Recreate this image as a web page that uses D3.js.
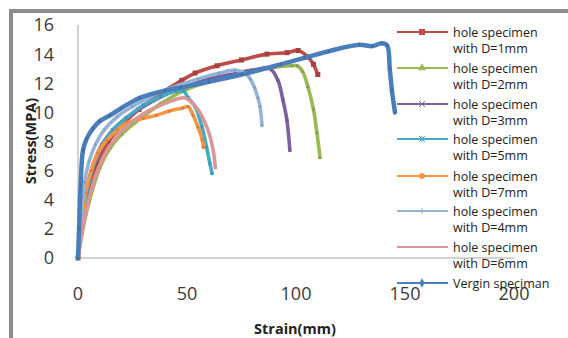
<!DOCTYPE html>
<html>
<head>
<meta charset="utf-8">
<script src="https://cdn.jsdelivr.net/npm/d3@7"></script>
<style>
  body { margin: 0; background: #fff; }
  svg { display: block; }
  .tick-label { font-family: "Open Sans", sans-serif; font-size: 18px; fill: #3a3a3a; }
  .axis-title { font-family: "Open Sans", sans-serif; font-size: 14.5px; font-weight: bold; fill: #222; }
  .legend-text { font-family: "Open Sans", sans-serif; font-size: 12.5px; fill: #222; }
</style>
</head>
<body>
<div id="chart"></div>
<script>
// tick labels
const xTicks = [0, 50, 100, 150, 200];
const yTicks = [0, 2, 4, 6, 8, 10, 12, 14, 16];

// series, in legend order
const seriesNames = [
  ['hole specimen', 'with D=1mm'],
  ['hole specimen', 'with D=2mm'],
  ['hole specimen', 'with D=3mm'],
  ['hole specimen', 'with D=5mm'],
  ['hole specimen', 'with D=7mm'],
  ['hole specimen', 'with D=4mm'],
  ['hole specimen', 'with D=6mm'],
  ['Vergin speciman']
];
const seriesColors = ['#BE4B48', '#98B954', '#7D60A0', '#46AAC5', '#F69545', '#95B3D7', '#D99694', '#4A7EBB'];
const seriesMarkers = ['square', 'triangle', 'cross', 'star', 'circle', 'plus', 'none', 'diamond'];

const d1Strain = [0, 2, 5, 9, 14, 20, 28, 38, 47.6, 53.7, 63.8, 75, 86.7, 95.9, 101, 105.5, 108, 110];
const d1Stress = [0, 2.3, 4.5, 6.5, 8.0, 9.1, 10.2, 11.3, 12.2, 12.7, 13.2, 13.6, 14.0, 14.1, 14.25, 13.8, 13.3, 12.6];

const d2Strain = [0, 2, 5, 10, 15, 20, 28, 38, 50, 60, 70, 80, 90, 98, 100.5, 103, 105.5, 108, 109.6, 111];
const d2Stress = [0, 1.8, 3.8, 6.2, 7.6, 8.5, 9.5, 10.6, 11.6, 12.1, 12.5, 12.8, 13.1, 13.2, 13.2, 12.8, 11.75, 10.2, 8.6, 6.9];

const d3Strain = [0, 2, 4, 7, 11, 16, 22, 30, 40, 50, 60, 70, 80, 88, 91.7, 94, 95.8, 97.2];
const d3Stress = [0, 2.6, 4.6, 6.4, 7.8, 8.8, 9.6, 10.4, 11.2, 11.8, 12.3, 12.6, 12.9, 13.0, 12.2, 10.85, 9.5, 7.4];

const d5Strain = [0, 2, 4, 7, 11, 16, 22, 30, 38, 45, 48.5, 50.5, 53.7, 56.9, 59, 60.5, 61.5];
const d5Stress = [0, 2.5, 4.5, 6.3, 7.7, 8.8, 9.6, 10.5, 11.1, 11.45, 11.45, 11.0, 10.4, 9.0, 7.6, 6.5, 5.8];

const d7Strain = [0, 1.5, 3.5, 6, 9, 13.3, 18, 22.5, 30, 36, 42, 48, 50.5, 52.8, 55, 57, 57.5];
const d7Stress = [0, 2.5, 4.5, 6.0, 7.2, 8.1, 8.8, 9.3, 9.6, 9.8, 10.1, 10.3, 10.4, 9.8, 9.0, 8.1, 7.6];

const d4Strain = [0, 1.5, 3, 5, 8, 12, 18, 25, 35, 45, 55, 65, 72, 76.6, 79, 81, 82.5, 83.5, 84.4];
const d4Stress = [0, 3, 5.2, 6.6, 7.8, 8.8, 9.7, 10.4, 11.2, 11.8, 12.3, 12.7, 12.9, 12.7, 12.3, 11.7, 11.0, 10.4, 9.1];

const d6Strain = [0, 2, 5, 8, 11.5, 16, 22, 30, 38, 45, 49, 52, 55, 59.6, 62, 63];
const d6Stress = [0, 1.9, 4.0, 5.6, 6.9, 8.0, 9.0, 9.9, 10.5, 10.9, 11.0, 10.7, 10.2, 8.8, 7.4, 6.2];

const vStrain = [0, 0.5, 1.2, 2.3, 4, 6.9, 10, 14.7, 20, 28.4, 40, 47, 60, 75, 93, 104, 115, 129, 135, 139.4, 141.8, 143, 144, 145.4];
const vStress = [0, 2, 5, 7.4, 8.2, 8.9, 9.4, 9.8, 10.3, 11.0, 11.5, 11.7, 12.1, 12.6, 13.3, 13.75, 14.2, 14.65, 14.55, 14.75, 14.6, 13, 11.5, 10.0];

const seriesStrain = [d1Strain, d2Strain, d3Strain, d5Strain, d7Strain, d4Strain, d6Strain, vStrain];
const seriesStress = [d1Stress, d2Stress, d3Stress, d5Stress, d7Stress, d4Stress, d6Stress, vStress];

const width = 568;
const height = 338;

const svg = d3.select('#chart').append('svg')
  .attr('width', width)
  .attr('height', height);

// outer frame of the chart area
svg.append('rect')
  .attr('x', 11)
  .attr('y', 11)
  .attr('width', 620)
  .attr('height', 400)
  .attr('fill', 'none')
  .attr('stroke', '#8c8c8c')
  .attr('stroke-width', 4);

const x = d3.scaleLinear().domain([0, 200]).range([78, 514]);
const y = d3.scaleLinear().domain([0, 16]).range([258, 25]);

// axis lines
svg.append('line')
  .attr('x1', x(0)).attr('x2', x(200))
  .attr('y1', y(0)).attr('y2', y(0))
  .attr('stroke', '#a6a6a6').attr('stroke-width', 1);
svg.append('line')
  .attr('x1', x(0)).attr('x2', x(0))
  .attr('y1', y(0)).attr('y2', y(16))
  .attr('stroke', '#a6a6a6').attr('stroke-width', 1);

// tick labels
svg.selectAll('.ytl').data(yTicks).join('text')
  .attr('class', 'tick-label')
  .attr('x', 54)
  .attr('y', d => y(d))
  .attr('dy', '0.36em')
  .attr('text-anchor', 'end')
  .text(d => d);

svg.selectAll('.xtl').data(xTicks).join('text')
  .attr('class', 'tick-label')
  .attr('x', d => x(d))
  .attr('y', 294)
  .attr('dy', '0.36em')
  .attr('text-anchor', 'middle')
  .text(d => d);

// axis titles
svg.append('text')
  .attr('class', 'axis-title')
  .attr('x', 295)
  .attr('y', 329)
  .attr('dy', '0.36em')
  .attr('text-anchor', 'middle')
  .text('Strain(mm)');

svg.append('text')
  .attr('class', 'axis-title')
  .attr('transform', 'translate(31,141) rotate(-90)')
  .attr('dy', '0.36em')
  .attr('text-anchor', 'middle')
  .text('Stress(MPA)');

const line = d3.line()
  .x(d => x(d[0]))
  .y(d => y(d[1]))
  .curve(d3.curveCatmullRom.alpha(0.5));

function drawMarker(g, kind, cx, cy, color, s) {
  if (kind === 'square') {
    g.append('rect').attr('x', cx - s / 2).attr('y', cy - s / 2)
      .attr('width', s).attr('height', s).attr('fill', color);
  } else if (kind === 'triangle') {
    g.append('path').attr('d', d3.symbol(d3.symbolTriangle, s * s * 0.8)())
      .attr('transform', `translate(${cx},${cy})`).attr('fill', color);
  } else if (kind === 'circle') {
    g.append('circle').attr('cx', cx).attr('cy', cy).attr('r', s / 2).attr('fill', color);
  } else if (kind === 'diamond') {
    g.append('path').attr('d', d3.symbol(d3.symbolDiamond, s * s * 0.7)())
      .attr('transform', `translate(${cx},${cy})`).attr('fill', color);
  } else if (kind === 'cross' || kind === 'plus' || kind === 'star') {
    const h = s / 2;
    const segs = [];
    if (kind !== 'plus') segs.push([-h, -h, h, h], [-h, h, h, -h]);
    if (kind !== 'cross') segs.push([0, -h, 0, h]);
    if (kind === 'plus') segs.push([-h, 0, h, 0]);
    segs.forEach(sg => {
      g.append('line')
        .attr('x1', cx + sg[0]).attr('y1', cy + sg[1])
        .attr('x2', cx + sg[2]).attr('y2', cy + sg[3])
        .attr('stroke', color).attr('stroke-width', 1);
    });
  }
}

// series drawn in order, so the vergin curve ends up on top
const plot = svg.append('g');
seriesStrain.forEach((strain, i) => {
  const pts = strain.map((s, k) => [s, seriesStress[i][k]]);
  const g = plot.append('g');
  g.append('path')
    .attr('d', line(pts))
    .attr('fill', 'none')
    .attr('stroke', seriesColors[i])
    .attr('stroke-width', i === 7 ? 4.5 : 3.6)
    .attr('stroke-linejoin', 'round')
    .attr('stroke-linecap', 'round');
  const mcol = d3.color(seriesColors[i]).darker(0.4);
  pts.forEach(p => {
    drawMarker(g, seriesMarkers[i], x(p[0]), y(p[1]), mcol, i === 0 ? 5 : 3);
  });
});

// legend
const legendY = [32, 68, 104, 139, 176, 211, 247, 283];
const legend = svg.append('g');
seriesNames.forEach((names, i) => {
  const ly = legendY[i];
  legend.append('line')
    .attr('x1', 397).attr('x2', 448)
    .attr('y1', ly).attr('y2', ly)
    .attr('stroke', seriesColors[i]).attr('stroke-width', 2);
  drawMarker(legend, seriesMarkers[i], 422, ly, seriesColors[i], 6);
  names.forEach((t, k) => {
    legend.append('text')
      .attr('class', 'legend-text')
      .attr('x', 453)
      .attr('y', ly + k * 16)
      .attr('dy', '0.36em')
      .text(t);
  });
});
</script>
</body>
</html>
